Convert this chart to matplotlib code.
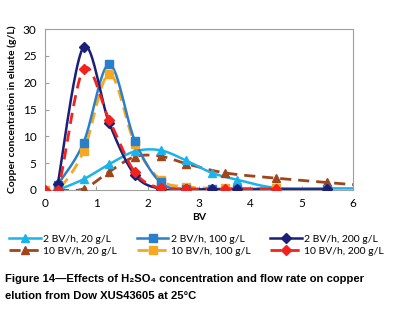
import numpy as np
import matplotlib
matplotlib.use('Agg')
import matplotlib.pyplot as plt
from matplotlib.lines import Line2D

plt.rcParams['font.family'] = ['Lato', 'DejaVu Sans']

# values (BV, Cu g/L)
bv_2 = [0.25, 0.75, 1.25, 1.75, 2.25, 2.75, 3.25, 3.75, 4.5, 5.5, 6.0]
cu_2_20 = [0.0, 2.0, 4.8, 7.2, 7.4, 5.5, 3.2, 1.9, 0.4, 0.3, 0.3]
bv_2b = [0.25, 0.75, 1.25, 1.75, 2.25, 2.75, 3.25, 3.75, 5.5]
cu_2_100 = [1.0, 8.8, 23.4, 9.2, 1.4, 0.2, 0.2, 0.2, 0.2]
cu_2_200 = [1.2, 26.6, 12.5, 2.8, 0.2, 0.1, 0.1, 0.1, 0.1]
bv_10a = [0.25, 0.75, 1.25, 1.75, 2.25, 2.75, 3.5, 4.5, 5.5, 6.0]
cu_10_20 = [0.0, 0.2, 3.4, 6.2, 6.3, 4.9, 3.2, 2.2, 1.4, 1.0]
bv_10 = [0.0, 0.25, 0.75, 1.25, 1.75, 2.25, 2.75, 3.5, 4.5]
cu_10_100 = [0.0, 0.0, 7.2, 21.6, 8.6, 1.9, 0.6, 0.3, 0.3]
cu_10_200 = [0.0, 0.0, 22.5, 13.1, 3.3, 0.3, 0.2, 0.2, 0.2]

labels = ['2 BV/h, 20 g/L', '2 BV/h, 100 g/L', '2 BV/h, 200 g/L',
          '10 BV/h, 20 g/L', '10 BV/h, 100 g/L', '10 BV/h, 200 g/L']


def smooth(x, y, n=24):
    # Excel-like smoothed line: cubic Bezier through each pair of points
    p = np.column_stack([x, y]).astype(float)
    out = [p[0]]
    t = np.linspace(0, 1, n)[1:, None]
    for i in range(len(p) - 1):
        p0 = p[i - 1] if i > 0 else p[i]
        p1, p2 = p[i], p[i + 1]
        p3 = p[i + 2] if i + 2 < len(p) else p[i + 1]
        c1 = p1 + (p2 - p0) / 6
        c2 = p2 - (p3 - p1) / 6
        seg = ((1 - t) ** 3) * p1 + 3 * ((1 - t) ** 2) * t * c1 + 3 * (1 - t) * t ** 2 * c2 + t ** 3 * p2
        out.extend(seg)
    out = np.array(out)
    return out[:, 0], out[:, 1]


fig = plt.figure(figsize=(3.94, 3.18), dpi=100)
ax = fig.add_axes([45 / 394, 1 - 190 / 318, 308 / 394, 161 / 318])

dash = (0, (4, 2.5))
series = [
    (bv_10a, cu_10_20, '#A0441C', '^', dash, 2.0),
    (bv_2, cu_2_20, '#1BB3EA', '^', '-', 1.8),
    (bv_10, cu_10_100, '#F7A823', 's', dash, 2.0),
    (bv_2b, cu_2_100, '#2A7FCB', 's', '-', 1.8),
    (bv_2b, cu_2_200, '#1C1F78', 'D', '-', 1.8),
    (bv_10, cu_10_200, '#F2221E', 'D', dash, 2.0),
]
handles = {}
for (xs, ys, col, mk, ls, lw) in series:
    sx, sy = smooth(xs, ys)
    ax.plot(sx, sy, color=col, lw=lw, ls=ls, zorder=2)
    xm, ym = np.array(xs), np.array(ys)
    keep = xm < 6
    ax.plot(xm[keep], ym[keep], ls='none', marker=mk, color=col,
            ms=6 if mk != 'D' else 5, zorder=3)
    handles[col] = Line2D([], [], color=col, lw=lw, ls=ls, marker=mk,
                          ms=6 if mk != 'D' else 5)

ax.set_xlim(0, 6)
ax.set_ylim(0, 30)
ax.set_xticks(range(0, 7))
ax.set_yticks(range(0, 31, 5))
ax.tick_params(direction='in', length=3, color='#a0a0a0', labelsize=8.5, pad=6)
for s in ax.spines.values():
    s.set_color('#a0a0a0')
    s.set_linewidth(0.8)
ax.set_xlabel('BV', fontsize=7.5, fontweight='bold', labelpad=3)
ax.set_ylabel('Copper concentration in eluate (g/L)', fontsize=7.5,
              fontweight='bold', labelpad=4)

order = ['#1BB3EA', '#A0441C', '#2A7FCB', '#F7A823', '#1C1F78', '#F2221E']
order_labels = [labels[0], labels[3], labels[1], labels[4], labels[2], labels[5]]
fig.legend([handles[c] for c in order], order_labels, ncol=3, frameon=False,
           loc='upper left', bbox_to_anchor=(0.0, 1 - 225 / 318),
           fontsize=7.5, handlelength=3.0, handletextpad=0.25,
           columnspacing=1.9, labelspacing=0.3)

cap_font = ['Liberation Sans', 'DejaVu Sans']
fig.text(5 / 394, 1 - 279 / 318,
         'Figure 14\u2014Effects of H\u2082SO\u2084 concentration and flow rate on copper',
         fontsize=8.1, fontweight='bold', va='center', family=cap_font)
fig.text(5 / 394, 1 - 296 / 318,
         'elution from Dow XUS43605 at 25\u00b0C',
         fontsize=8.1, fontweight='bold', va='center', family=cap_font)

fig.savefig('out.png', dpi=100)
